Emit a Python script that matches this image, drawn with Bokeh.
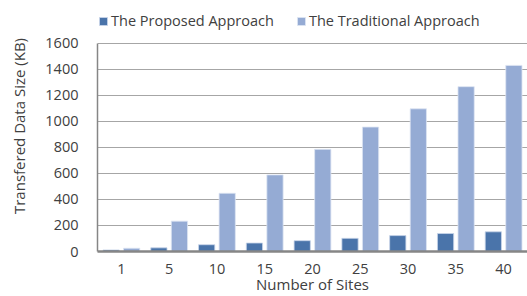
from bokeh.plotting import figure
from bokeh.models import FactorRange, Range1d, ColumnDataSource, Legend, LegendItem, FixedTicker
from bokeh.transform import dodge
from bokeh.embed import file_html
from bokeh.resources import INLINE

sites = ["1", "5", "10", "15", "20", "25", "30", "35", "40"]
proposed = [12, 28, 52, 65, 83, 101, 122, 138, 151]
traditional = [25, 233, 447, 588, 784, 955, 1095, 1265, 1428]
y_ticks = [0, 200, 400, 600, 800, 1000, 1200, 1400, 1600]

FONT = "Open Sans"
TXT = "#404040"

# frame extends above the 1600 line so the legend can sit inside it
y_max = y_ticks[-1]
y_top = y_max * (248 / 206)

src = ColumnDataSource(dict(site=sites, proposed=proposed, traditional=traditional))

p = figure(x_range=FactorRange(*sites, range_padding=0), y_range=Range1d(0, y_top),
           width=527, height=296, output_backend="svg", toolbar_location=None,
           min_border_left=97, min_border_right=0, min_border_top=0, min_border_bottom=0)
p.outline_line_color = None
p.background_fill_color = "white"

r1 = p.vbar(x=dodge("site", -0.215, range=p.x_range), top="proposed", width=0.34, source=src,
            fill_color="#4A74AA", line_color="#c9d6ea", line_width=0.8)
r2 = p.vbar(x=dodge("site", 0.215, range=p.x_range), top="traditional", width=0.34, source=src,
            fill_color="#95ABD4", line_color="#dde5f2", line_width=0.8)

p.xgrid.grid_line_color = None
p.ygrid.grid_line_color = "#a6a6a6"
p.ygrid.grid_line_width = 1
p.yaxis.ticker = FixedTicker(ticks=y_ticks)
p.yaxis.bounds = (0, y_max)

for ax in (p.xaxis[0], p.yaxis[0]):
    ax.axis_line_color = "#868686"
    ax.major_tick_line_color = None
    ax.minor_tick_line_color = None
    ax.major_tick_out = 0
    ax.major_tick_in = 0
    ax.major_label_text_font = FONT
    ax.major_label_text_font_size = "14.5px"
    ax.major_label_text_color = TXT
    ax.axis_label_text_font = FONT
    ax.axis_label_text_font_size = "15px"
    ax.axis_label_text_font_style = "normal"
    ax.axis_label_text_color = TXT

p.xaxis.axis_line_width = 2.5
p.yaxis.axis_line_width = 1.5
p.xaxis.major_label_standoff = 12
p.yaxis.major_label_standoff = 19
p.xaxis.axis_label = "Number of Sites"
p.xaxis.axis_label_standoff = -3
p.yaxis.axis_label = "Transfered Data Size (KB)"
p.yaxis.axis_label_standoff = 13

legend = Legend(items=[LegendItem(label="The Proposed Approach", renderers=[r1]),
                       LegendItem(label="The Traditional Approach", renderers=[r2])],
                orientation="horizontal", location=(1, 221),
                glyph_width=10, glyph_height=10, label_standoff=3, spacing=22,
                padding=0, margin=0, border_line_color=None, background_fill_alpha=0,
                label_text_font=FONT, label_text_font_size="14.5px", label_text_color=TXT,
                label_height=14)
p.add_layout(legend, "center")

open("out.html", "w").write(file_html(p, INLINE))
